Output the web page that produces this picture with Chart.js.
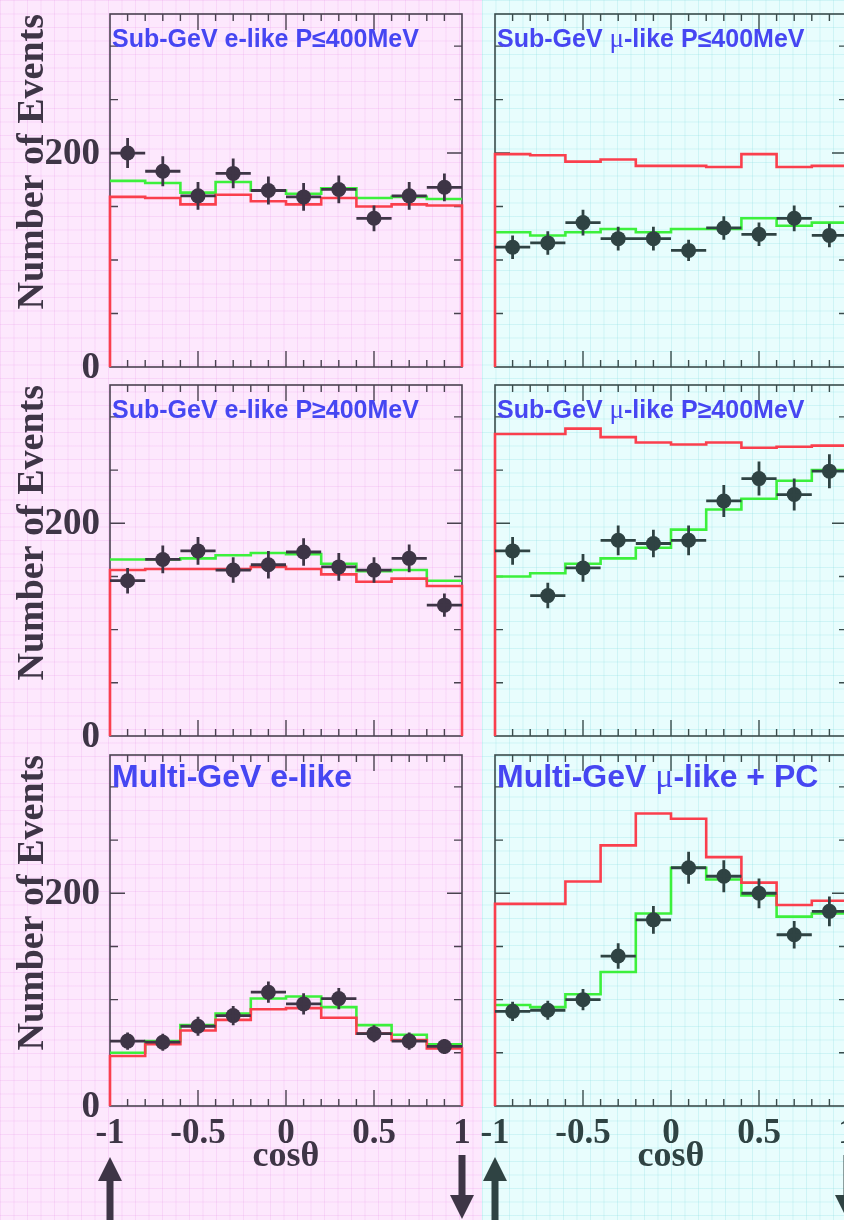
<!DOCTYPE html>
<html>
<head>
<meta charset="utf-8">
<script src="https://cdn.jsdelivr.net/npm/chart.js@4/dist/chart.umd.min.js"></script>
<style>
html,body{margin:0;padding:0;width:844px;height:1220px;overflow:hidden;background:#fde8fd;}
#bgL{position:absolute;left:0;top:0;width:482px;height:1220px;background-color:#fde8fd;
 background-image:linear-gradient(to right, rgba(235,165,235,0.28) 1px, transparent 1px),linear-gradient(to bottom, rgba(235,165,235,0.28) 1px, transparent 1px);
 background-size:13.5px 13.5px;}
#bgR{position:absolute;left:482px;top:0;width:362px;height:1220px;background-color:#e8fdfd;
 background-image:linear-gradient(to right, rgba(150,225,230,0.32) 1px, transparent 1px),linear-gradient(to bottom, rgba(150,225,230,0.32) 1px, transparent 1px);
 background-size:13.5px 13.5px;}
canvas{position:absolute;left:0;top:0;}
</style>
</head>
<body>
<div id="bgL"></div><div id="bgR"></div>
<canvas id="c0" width="900" height="1220" style="width:900px;height:1220px"></canvas>
<canvas id="c1" width="900" height="1220" style="width:900px;height:1220px"></canvas>
<canvas id="c2" width="900" height="1220" style="width:900px;height:1220px"></canvas>
<canvas id="c3" width="900" height="1220" style="width:900px;height:1220px"></canvas>
<canvas id="c4" width="900" height="1220" style="width:900px;height:1220px"></canvas>
<canvas id="c5" width="900" height="1220" style="width:900px;height:1220px"></canvas>
<script>
// ---- Categories / ticks ----
const binEdges = [-1, -0.8, -0.6, -0.4, -0.2, 0, 0.2, 0.4, 0.6, 0.8, 1];
const xTickLabels = [-1, -0.5, 0, 0.5, 1];
const xMinorTicks = [-0.9,-0.8,-0.7,-0.6,-0.4,-0.3,-0.2,-0.1,0.1,0.2,0.3,0.4,0.6,0.7,0.8,0.9];
const xMajorTicks = [-0.5, 0, 0.5];
const yTickLabels = [0, 200];
const yMinorTicks = [50, 100, 150, 250, 300];
const yMajorTicks = [200];
const yMax = 330;
const titles = [
  "Sub-GeV e-like P≤400MeV", "Sub-GeV μ-like P≤400MeV",
  "Sub-GeV e-like P≥400MeV", "Sub-GeV μ-like P≥400MeV",
  "Multi-GeV e-like", "Multi-GeV μ-like + PC"
];
const xTitle = "cosθ";
const yTitle = "Number of Events";

// ---- Series: data points, errors, best-fit oscillation (green), no oscillation (red) ----
const subELowData  = [200, 183, 160, 181, 165, 159, 166, 139, 160, 168];
const subELowErr   = [14, 14, 13, 14, 13, 13, 13, 12, 13, 13];
const subELowOsc   = [174, 172, 163, 173, 165, 162, 167, 158, 159, 157];
const subELowNoOsc = [159, 158, 152, 161, 155, 152, 158, 150, 152, 151];

const subMuLowData  = [112, 116, 135, 120, 120, 109, 130, 124, 139, 123];
const subMuLowErr   = [11, 11, 12, 11, 11, 10, 11, 11, 12, 11];
const subMuLowOsc   = [126, 123, 126, 129, 126, 129, 129, 139, 132, 135];
const subMuLowNoOsc = [199, 198, 192, 194, 188, 188, 187, 199, 187, 188];

const subEHighData  = [146, 166, 174, 156, 161, 173, 159, 156, 167, 123];
const subEHighErr   = [12, 13, 13, 12, 13, 13, 13, 12, 13, 11];
const subEHighOsc   = [166, 166, 167, 170, 172, 171, 162, 155, 156, 146];
const subEHighNoOsc = [156, 157, 157, 157, 159, 157, 152, 145, 148, 141];

const subMuHighData  = [174, 132, 158, 184, 181, 184, 221, 242, 227, 249];
const subMuHighErr   = [13, 12, 13, 14, 13, 14, 15, 16, 15, 16];
const subMuHighOsc   = [150, 153, 162, 167, 177, 194, 213, 223, 240, 250];
const subMuHighNoOsc = [284, 284, 289, 281, 276, 274, 276, 271, 272, 273];

const multiEData  = [61, 60, 75, 85, 107, 96, 101, 68, 61, 56];
const multiEErr   = [8, 8, 9, 9, 10, 10, 10, 8, 8, 7];
const multiEOsc   = [50, 61, 76, 87, 101, 103, 93, 76, 67, 58];
const multiENoOsc = [47, 58, 71, 81, 91, 92, 83, 68, 62, 54];

const multiMuData  = [89, 90, 100, 141, 175, 224, 216, 200, 161, 183];
const multiMuErr   = [9, 9, 10, 12, 13, 15, 15, 14, 13, 14];
const multiMuOsc   = [95, 93, 105, 126, 181, 224, 213, 198, 178, 181];
const multiMuNoOsc = [190, 190, 211, 245, 275, 270, 234, 210, 189, 193];

const panels = [
  {data: subELowData,  err: subELowErr,  osc: subELowOsc,  noosc: subELowNoOsc},
  {data: subMuLowData, err: subMuLowErr, osc: subMuLowOsc, noosc: subMuLowNoOsc},
  {data: subEHighData, err: subEHighErr, osc: subEHighOsc, noosc: subEHighNoOsc},
  {data: subMuHighData,err: subMuHighErr,osc: subMuHighOsc,noosc: subMuHighNoOsc},
  {data: multiEData,   err: multiEErr,   osc: multiEOsc,   noosc: multiENoOsc},
  {data: multiMuData,  err: multiMuErr,  osc: multiMuOsc,  noosc: multiMuNoOsc}
];

// ---- Layout (page pixels) ----
const colLeft = [110, 495], colRight = [462, 847];
const rowTop = [14, 385, 755], rowBottom = [367, 736, 1106];
const CW = 900, CH = 1220;

function stepPoints(vals, closed) {
  const pts = [];
  const n = binEdges.length - 1;
  if (closed) pts.push({x: binEdges[0], y: 0});
  for (let i = 0; i < n; i++) pts.push({x: binEdges[i], y: vals[i]});
  pts.push({x: binEdges[n], y: vals[n - 1]});
  if (closed) pts.push({x: binEdges[n], y: 0});
  return pts;
}

function makeChart(idx) {
  const col = idx % 2, row = Math.floor(idx / 2);
  const L = colLeft[col], R = colRight[col], T = rowTop[row], B = rowBottom[row];
  const ink = col === 0 ? '#3e3546' : '#2f4343';
  const frameInk = col === 0 ? '#4a4250' : '#3a4c4c';
  const p = panels[idx];
  const centers = binEdges.slice(0, -1).map((e, i) => (e + binEdges[i + 1]) / 2);
  const dataPts = centers.map((c, i) => ({x: c, y: p.data[i]}));

  const panelPlugin = {
    id: 'panel' + idx,
    beforeDatasetsDraw(chart) {
      const ctx = chart.ctx, xs = chart.scales.x, ys = chart.scales.y, a = chart.chartArea;
      ctx.save();
      ctx.strokeStyle = frameInk;
      ctx.lineWidth = 1.6;
      ctx.strokeRect(a.left, a.top, a.right - a.left, a.bottom - a.top);
      ctx.lineWidth = 1.4;
      ctx.beginPath();
      xMinorTicks.forEach(v => { const x = xs.getPixelForValue(v);
        ctx.moveTo(x, a.bottom); ctx.lineTo(x, a.bottom - 7);
        ctx.moveTo(x, a.top); ctx.lineTo(x, a.top + 7); });
      xMajorTicks.forEach(v => { const x = xs.getPixelForValue(v);
        ctx.moveTo(x, a.bottom); ctx.lineTo(x, a.bottom - 16);
        ctx.moveTo(x, a.top); ctx.lineTo(x, a.top + 16); });
      yMinorTicks.forEach(v => { const y = ys.getPixelForValue(v);
        ctx.moveTo(a.left, y); ctx.lineTo(a.left + 8, y);
        ctx.moveTo(a.right, y); ctx.lineTo(a.right - 8, y); });
      yMajorTicks.forEach(v => { const y = ys.getPixelForValue(v);
        ctx.moveTo(a.left, y); ctx.lineTo(a.left + 15, y);
        ctx.moveTo(a.right, y); ctx.lineTo(a.right - 15, y); });
      ctx.stroke();
      ctx.restore();
    },
    afterDatasetsDraw(chart) {
      const ctx = chart.ctx, xs = chart.scales.x, ys = chart.scales.y;
      ctx.save();
      ctx.strokeStyle = ink;
      ctx.lineWidth = 2.8;
      ctx.beginPath();
      centers.forEach((c, i) => {
        const x0 = xs.getPixelForValue(binEdges[i]), x1 = xs.getPixelForValue(binEdges[i + 1]);
        const xc = xs.getPixelForValue(c), y = ys.getPixelForValue(p.data[i]);
        ctx.moveTo(x0, y); ctx.lineTo(x1, y);
        ctx.moveTo(xc, ys.getPixelForValue(p.data[i] - p.err[i]));
        ctx.lineTo(xc, ys.getPixelForValue(p.data[i] + p.err[i]));
      });
      ctx.stroke();
      ctx.restore();
    },
    afterDraw(chart) {
      const ctx = chart.ctx, xs = chart.scales.x, ys = chart.scales.y, a = chart.chartArea;
      ctx.save();
      // title
      const big = row === 2;
      const sans = big ? 'bold 32px "Liberation Sans"' : 'bold 25px "Liberation Sans"';
      const mu = big ? '34px "Liberation Serif"' : '27px "Liberation Serif"';
      ctx.fillStyle = '#4646f2';
      ctx.textBaseline = 'alphabetic';
      ctx.textAlign = 'left';
      let cx = a.left + 2;
      const ty = a.top + (big ? 32 : 33);
      titles[idx].split(/(μ)/).forEach(part => {
        if (!part) return;
        ctx.font = part === 'μ' ? mu : sans;
        ctx.fillText(part, cx, ty);
        cx += ctx.measureText(part).width;
      });
      ctx.fillStyle = ink;
      // y axis labels (left column only)
      if (col === 0) {
        ctx.font = 'bold 37px "Liberation Serif"';
        ctx.textAlign = 'right';
        ctx.textBaseline = 'middle';
        yTickLabels.forEach(v => ctx.fillText(String(v), a.left - 10, ys.getPixelForValue(v) + 1));
        ctx.save();
        ctx.translate(43, a.top);
        ctx.rotate(-Math.PI / 2);
        ctx.font = 'bold 38px "Liberation Serif"';
        ctx.textAlign = 'right';
        ctx.textBaseline = 'alphabetic';
        ctx.fillText(yTitle, 0, 0);
        ctx.restore();
      }
      // x axis labels (bottom row)
      if (row === 2) {
        ctx.font = 'bold 35px "Liberation Serif"';
        ctx.textAlign = 'center';
        ctx.textBaseline = 'alphabetic';
        xTickLabels.forEach(v => ctx.fillText(String(v), xs.getPixelForValue(v), 1143));
        ctx.font = 'bold 36px "Liberation Serif"';
        ctx.fillText(xTitle, xs.getPixelForValue(0), 1166);
        // arrows: upward at cos=-1, downward at cos=+1
        const xu = xs.getPixelForValue(-1);
        ctx.beginPath();
        ctx.moveTo(xu, 1157); ctx.lineTo(xu + 12, 1181); ctx.lineTo(xu + 3.5, 1181);
        ctx.lineTo(xu + 3.5, 1225); ctx.lineTo(xu - 3.5, 1225); ctx.lineTo(xu - 3.5, 1181);
        ctx.lineTo(xu - 12, 1181); ctx.closePath(); ctx.fill();
        const xd = xs.getPixelForValue(1);
        ctx.beginPath();
        ctx.moveTo(xd - 3.5, 1155); ctx.lineTo(xd + 3.5, 1155); ctx.lineTo(xd + 3.5, 1195);
        ctx.lineTo(xd + 12, 1195); ctx.lineTo(xd, 1219); ctx.lineTo(xd - 12, 1195);
        ctx.lineTo(xd - 3.5, 1195); ctx.closePath(); ctx.fill();
      }
      ctx.restore();
    }
  };

  return new Chart(document.getElementById('c' + idx), {
    type: 'line',
    data: {
      datasets: [
        {label: 'Data', data: dataPts, showLine: false, pointRadius: 7.5,
         pointBackgroundColor: ink, pointBorderWidth: 0, clip: false},
        {label: 'No oscillation', data: stepPoints(p.noosc, true), borderColor: '#fa3f4d',
         borderWidth: 2.6, stepped: 'before', pointRadius: 0, fill: false, clip: false},
        {label: 'Best fit', data: stepPoints(p.osc, false), borderColor: '#3cf03c',
         borderWidth: 2.6, stepped: 'before', pointRadius: 0, fill: false, clip: false}
      ]
    },
    options: {
      responsive: false, animation: false, events: [],
      layout: {padding: {left: L, top: T, right: CW - R, bottom: CH - B}},
      plugins: {legend: {display: false}, tooltip: {enabled: false}, title: {display: false}},
      scales: {
        x: {type: 'linear', min: -1, max: 1, display: false},
        y: {type: 'linear', min: 0, max: yMax, display: false}
      }
    },
    plugins: [panelPlugin]
  });
}

for (let i = 0; i < 6; i++) makeChart(i);
</script>
</body>
</html>
